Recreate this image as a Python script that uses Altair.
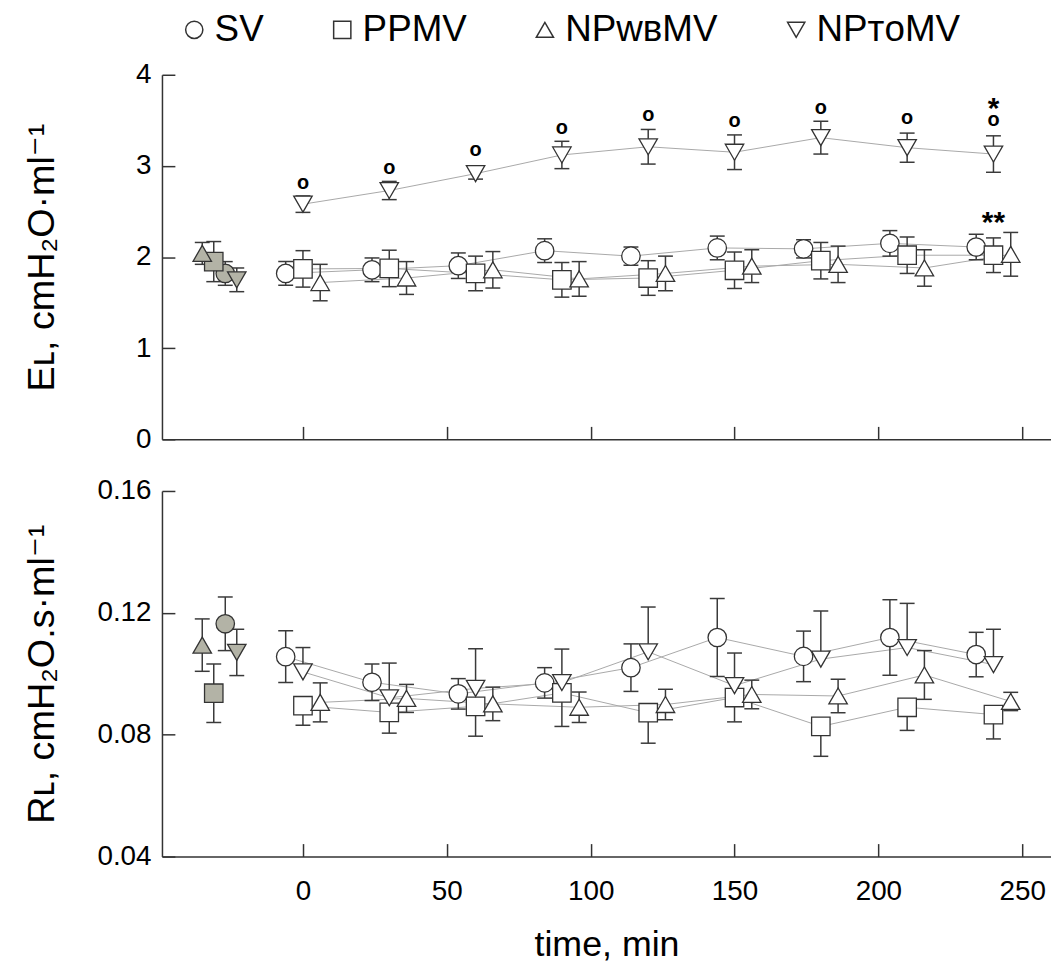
import altair as alt
import pandas as pd

FONT = "Liberation Sans, Arial, DejaVu Sans, sans-serif"

groups = ["SV", "PPMV", "NPᴡʙMV", "NPᴛᴏMV"]
shapes = ["circle", "square", "triangle-up", "triangle-down"]

# sampling times (min)
t_sv = [-6, 24, 54, 84, 114, 144, 174, 204, 234]
t_pp = [0, 30, 60, 90, 120, 150, 180, 210, 240]
t_wb = [6, 36, 66, 96, 126, 156, 186, 216, 246]
t_to = [0, 30, 60, 90, 120, 150, 180, 210, 240]
t_base = [-27, -31, -35, -23]          # baseline: SV, PPMV, NPwbMV, NPtoMV

# EL (cmH2O/ml)
el_sv = [1.82, 1.86, 1.905, 2.07, 2.01, 2.10, 2.09, 2.15, 2.11]
el_sv_err = [0.13, 0.13, 0.14, 0.13, 0.10, 0.13, 0.10, 0.14, 0.14]
el_pp = [1.87, 1.875, 1.82, 1.75, 1.77, 1.855, 1.96, 2.02, 2.02]
el_pp_err = [0.20, 0.20, 0.19, 0.19, 0.19, 0.20, 0.20, 0.20, 0.19]
el_wb = [1.72, 1.77, 1.86, 1.76, 1.82, 1.90, 1.92, 1.88, 2.03]
el_wb_err = [0.20, 0.18, 0.20, 0.19, 0.19, 0.18, 0.20, 0.20, 0.24]
el_to = [2.58, 2.73, 2.915, 3.12, 3.21, 3.15, 3.31, 3.20, 3.13]
el_to_err = [0.09, 0.10, 0.06, 0.15, 0.19, 0.19, 0.18, 0.16, 0.20]
el_base = [1.82, 1.95, 2.04, 1.75]
el_base_err = [0.13, 0.22, 0.12, 0.13]

# RL (cmH2O.s/ml)
rl_sv = [0.1056, 0.0972, 0.0934, 0.0970, 0.1020, 0.1119, 0.1057, 0.1119, 0.1063]
rl_sv_err = [0.0085, 0.0060, 0.0050, 0.0050, 0.0078, 0.0128, 0.0083, 0.0124, 0.0073]
rl_pp = [0.0895, 0.0873, 0.0893, 0.0937, 0.0872, 0.0922, 0.0827, 0.0890, 0.0866]
rl_pp_err = [0.0064, 0.0068, 0.0098, 0.0110, 0.0100, 0.0080, 0.0098, 0.0076, 0.0080]
rl_wb = [0.0906, 0.0919, 0.0901, 0.0890, 0.0899, 0.0932, 0.0927, 0.0996, 0.0909]
rl_wb_err = [0.0064, 0.0046, 0.0055, 0.0050, 0.0050, 0.0047, 0.0055, 0.0080, 0.0030]
rl_to = [0.1006, 0.0921, 0.0952, 0.0971, 0.1072, 0.0961, 0.1048, 0.1086, 0.1030]
rl_to_err = [0.0080, 0.0114, 0.0130, 0.0110, 0.0147, 0.0107, 0.0158, 0.0145, 0.0116]
rl_base = [0.1164, 0.0936, 0.1094, 0.1070]
rl_base_err = [0.0088, 0.0096, 0.0086, 0.0076]

# significance marks (top panel)
ann_t = [0, 30, 60, 90, 120, 150, 180, 210, 240]
ann_o_y = [2.81, 2.98, 3.17, 3.42, 3.555, 3.49, 3.64, 3.52, 3.50]
star_t = [240, 240]
star_y = [3.675, 2.43]
star_text = ["*", "**"]

times = [t_sv, t_pp, t_wb, t_to]


def build(vals, errs, base_vals, base_errs, dirs):
    rows, caps = [], []
    for gi, g in enumerate(groups):
        pts = list(zip(times[gi], vals[gi], errs[gi], [False] * len(times[gi])))
        pts.append((t_base[gi], base_vals[gi], base_errs[gi], True))
        for t, v, e, b in pts:
            d = "both" if b else dirs[gi]
            lo = v - e if d in ("both", "down") else v
            hi = v + e if d in ("both", "up") else v
            rows.append(dict(group=g, time=t, value=v, lo=lo, hi=hi, baseline=b))
            if d in ("both", "down"):
                caps.append(dict(group=g, time=t, cap=lo))
            if d in ("both", "up"):
                caps.append(dict(group=g, time=t, cap=hi))
    return pd.DataFrame(rows), pd.DataFrame(caps)


df_el, caps_el = build([el_sv, el_pp, el_wb, el_to], [el_sv_err, el_pp_err, el_wb_err, el_to_err],
                       el_base, el_base_err, ["both", "both", "both", "both"])
df_rl, caps_rl = build([rl_sv, rl_pp, rl_wb, rl_to], [rl_sv_err, rl_pp_err, rl_wb_err, rl_to_err],
                       rl_base, rl_base_err, ["both", "down", "both", "up"])

ann_df = pd.DataFrame(dict(time=ann_t, y=ann_o_y, txt=["o"] * len(ann_t)))
star_df = pd.DataFrame(dict(time=star_t, y=star_y, txt=star_text))

AX = dict(domainColor="#333333", domainWidth=1.5, ticks=False, grid=True,
          gridColor="#333333", gridWidth=1.5, gridDash=[13, 4000],
          labelFont=FONT, labelColor="black", titleFont=FONT, titleColor="black",
          titleFontWeight="normal")


def panel(df, caps, h, ydom, yvals, yfmt, ytitle, bottom, legend):
    xax = alt.Axis(values=[0, 50, 100, 150, 200, 250], labels=bottom,
                   title="time, min" if bottom else None, gridDashOffset=4013 - (h - 13),
                   labelFontSize=28, labelPadding=21, titleFontSize=36, titlePadding=23, **AX)
    x = alt.X("time:Q", scale=alt.Scale(domain=[-49, 260], nice=False, zero=False), axis=xax)
    yax = alt.Axis(values=yvals, format=yfmt, title=ytitle, labelFontSize=28, labelPadding=11,
                   titleFontSize=38, titleX=-109, titleBaseline="alphabetic", **AX)
    ysc = alt.Scale(domain=ydom, nice=False, zero=False)
    main = alt.Chart(df).transform_filter("!datum.baseline")
    basel = alt.Chart(df).transform_filter("datum.baseline")
    line = main.mark_line(color="#a8a8a8", strokeWidth=1).encode(
        x=x, y=alt.Y("value:Q", scale=ysc, axis=yax), detail="group:N")
    rule = alt.Chart(df).mark_rule(color="#3a3a3a", strokeWidth=1.5).encode(
        x=x, y=alt.Y("lo:Q", scale=ysc), y2="hi:Q")
    cap = alt.Chart(caps).mark_tick(orient="horizontal", size=15, thickness=1.5, color="#3a3a3a",
                                    opacity=1).encode(x=x, y=alt.Y("cap:Q", scale=ysc))
    shp = alt.Scale(domain=groups, range=shapes)
    pts = main.mark_point(size=345, opacity=1, strokeWidth=1.3, filled=False, fill="white",
                          color="#333333").encode(
        x=x, y=alt.Y("value:Q", scale=ysc),
        shape=alt.Shape("group:N", scale=shp, legend=legend))
    bpts = basel.mark_point(size=345, opacity=1, strokeWidth=1.3, filled=False, fill="#b3b3a6",
                            color="#333333").encode(
        x=x, y=alt.Y("value:Q", scale=ysc),
        shape=alt.Shape("group:N", scale=shp, legend=legend))
    return [line, rule, cap, pts, bpts], x, ysc


leg = alt.Legend(orient="none", legendX=14, legendY=-64, direction="horizontal", title=None,
                 labelFont=FONT, labelFontSize=37, labelColor="black", labelLimit=400,
                 symbolSize=300, labelOffset=2, columnPadding=60, padding=0)

top_layers, xt, yt = panel(df_el, caps_el, 367, [0, 4], [0, 1, 2, 3, 4], "d",
                           "Eʟ, cmH₂O·ml⁻¹", False, leg)
o_marks = alt.Chart(ann_df).mark_text(font=FONT, fontSize=20, fontWeight="bold", color="black").encode(
    x=xt, y=alt.Y("y:Q", scale=yt), text="txt:N")
s_marks = alt.Chart(star_df).mark_text(font=FONT, fontSize=30, fontWeight="bold", color="black", dy=5).encode(
    x=xt, y=alt.Y("y:Q", scale=yt), text="txt:N")
top = alt.layer(*top_layers, o_marks, s_marks).properties(width=895, height=367)

bot_layers, xb, yb = panel(df_rl, caps_rl, 368, [0.04, 0.16], [0.04, 0.08, 0.12, 0.16], ".2f",
                           "Rʟ, cmH₂O.s·ml⁻¹", True, None)
bottom = alt.layer(*bot_layers).properties(width=895, height=368)

chart = alt.vconcat(top, bottom, spacing=52, bounds="flush").resolve_scale(
    shape="independent").resolve_legend(shape="independent").properties(
    padding={"left": 15, "top": 0, "right": 0, "bottom": 0}, background="white"
).configure_view(stroke=None)

chart.save("out.html", embed_options={"renderer": "svg", "actions": False})
